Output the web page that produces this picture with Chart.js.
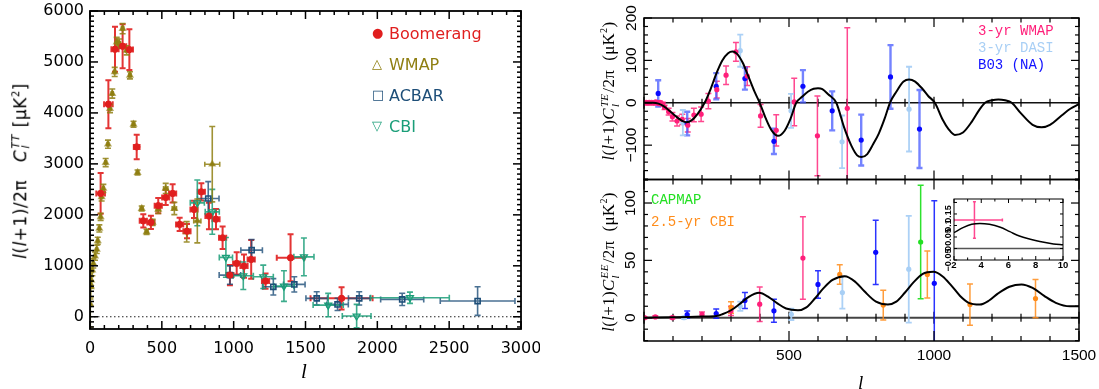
<!DOCTYPE html>
<html><head><meta charset="utf-8">
<script src="https://cdn.jsdelivr.net/npm/chart.js@4.4.1/dist/chart.umd.min.js"></script>
<style>
html,body{margin:0;padding:0;background:#fff;}
#wrap{position:relative;width:1099px;height:389px;overflow:hidden;background:#fff;}
canvas{position:absolute;}
.t{position:absolute;white-space:nowrap;line-height:1;}
.vt{position:absolute;white-space:nowrap;line-height:1;transform:translate(-50%,-50%) rotate(-90deg);}
.st{display:inline-block;vertical-align:middle;font-size:11px;line-height:0.95;text-align:left;margin:0 1px;}
.st span{display:block;}
.lg{position:absolute;white-space:nowrap;line-height:1;transform:translateY(-50%);}
</style></head>
<body><div id="wrap">
<canvas id="cL" width="540" height="389" style="left:0;top:0"></canvas>
<canvas id="cTE" width="559" height="185" style="left:540px;top:0"></canvas>
<canvas id="cEE" width="559" height="219" style="left:540px;top:170px"></canvas>
<canvas id="cIn" width="155" height="95" style="left:918px;top:188px"></canvas>

<div class="vt" style="left:21px;top:171px;font:17px 'DejaVu Sans';letter-spacing:0.5px"><i>l</i>(<i>l</i>+1)/2π&nbsp;&nbsp;&nbsp;<i>C</i><span class="st"><span><i>TT</i></span><span><i>l</i></span></span>&nbsp;[μK<sup style="font-size:10px">2</sup>]</div>
<div class="t" style="left:301px;top:359px;font:italic 21px 'Liberation Serif';">l</div>

<div class="lg" style="left:372px;top:32px;font:13px 'DejaVu Sans';color:#e01e1e">●</div>
<div class="lg" style="left:389px;top:33px;font:16px 'DejaVu Sans';color:#e01e1e">Boomerang</div>
<div class="lg" style="left:372px;top:63px;font:13px 'DejaVu Sans';color:#8f7f12">△</div>
<div class="lg" style="left:389px;top:64px;font:16px 'DejaVu Sans';color:#8f7f12">WMAP</div>
<div class="lg" style="left:372px;top:94px;font:13px 'DejaVu Sans';color:#1d4e78">□</div>
<div class="lg" style="left:389px;top:95px;font:16px 'DejaVu Sans';color:#1d4e78">ACBAR</div>
<div class="lg" style="left:372px;top:125px;font:13px 'DejaVu Sans';color:#1a9e78">▽</div>
<div class="lg" style="left:389px;top:126px;font:16px 'DejaVu Sans';color:#1a9e78">CBI</div>

<div class="vt" style="left:609px;top:91px;font:17px 'Liberation Serif';letter-spacing:0.3px"><i>l</i>(<i>l</i>+1)<i>C</i><span class="st"><span><i>TE</i></span><span><i>l</i></span></span>/2π&nbsp;&nbsp;(μK<sup style="font-size:10px">2</sup>)</div>
<div class="vt" style="left:609px;top:262px;font:17px 'Liberation Serif';letter-spacing:0.3px"><i>l</i>(<i>l</i>+1)<i>C</i><span class="st"><span><i>EE</i></span><span><i>l</i></span></span>/2π&nbsp;&nbsp;(μK<sup style="font-size:10px">2</sup>)</div>
<div class="t" style="left:858px;top:372px;font:italic 19px 'Liberation Serif';">l</div>

<div class="lg" style="left:978px;top:31px;font:14px 'Liberation Mono';color:#ff1f7a">3-yr WMAP</div>
<div class="lg" style="left:978px;top:48px;font:14px 'Liberation Mono';color:#a8cff5">3-yr DASI</div>
<div class="lg" style="left:978px;top:65px;font:14px 'Liberation Mono';color:#1010ff">B03 (NA)</div>
<div class="lg" style="left:651px;top:200px;font:14px 'Liberation Mono';color:#22e022">CAPMAP</div>
<div class="lg" style="left:651px;top:222px;font:14px 'Liberation Mono';color:#ff8c1a">2.5-yr CBI</div>
</div>
<script>
// ================= DATA =================
const L_X_TICKS = [0,500,1000,1500,2000,2500,3000];
const L_Y_TICKS = [0,1000,2000,3000,4000,5000,6000];

const BOOM_L  = [74,128,174,227,274,325,371,424,475,527,575,624,675,724,775,828,877,923,974,1021,1072,1122,1222,1396,1751];
const BOOM_V  = [2420,4171,5249,5308,5243,3333,1882,1851,2180,2341,2420,1812,1680,2106,2451,1975,1916,1549,818,1047,994,1125,700,1157,361];
const BOOM_EY = [400,470,440,430,400,240,130,130,150,150,180,130,140,170,170,260,200,220,200,220,230,380,150,460,220];
const BOOM_EX = [30,30,25,25,25,20,25,25,25,25,25,25,25,25,25,25,25,25,25,25,25,25,25,96,216];

const WMAP_L  = [2,3,5,9,16,23,35,47,54,65,74,81,93,109,125,139,155,172,186,204,227,255,278,303,331,360,394,436,475,527,587,673,747,851];
const WMAP_V  = [250,650,588,720,916,1047,1190,1322,1490,1733,1961,2353,2518,3027,3386,4086,4380,4804,5392,5361,5655,5229,4739,3778,2831,2125,1667,1851,2106,2518,2125,1667,1880,2994];
const WMAP_EY = [450,300,200,150,110,90,80,80,70,70,70,80,80,80,80,80,90,90,90,90,100,90,70,60,50,50,50,60,80,100,120,200,430,740];
const WMAP_EX = [0,0,1,2,3,3,4,5,5,5,5,5,5,6,6,7,7,7,7,8,8,8,8,8,8,10,10,12,15,15,15,15,25,52];

const ACBAR_L  = [823,974,1125,1276,1422,1578,1723,1874,2173,2698];
const ACBAR_V  = [2321,818,1307,588,635,361,243,361,341,308];
const ACBAR_EY = [330,180,210,160,150,130,120,130,120,280];
const ACBAR_EX = [75,75,75,75,75,75,75,75,150,260];

const CBI_L  = [747,851,946,1067,1206,1350,1489,1658,1856,2227];
const CBI_V  = [2235,2059,1165,804,784,602,1176,229,14,373];
const CBI_EY = [450,440,390,270,230,300,370,230,230,110];
const CBI_EX = [49,49,46,70,70,70,70,105,100,274];

const R_X_TICKS = [500,1000,1500];
const TE_Y_TICKS = [-100,0,100,200];
const TE_Y_LABELS = ['\u2212100','0','100','200'];
const EE_Y_TICKS = [0,50,100];

const TE_CURVE_L = [2,30,50,70,90,110,130,146,165,185,209,230,250,270,290,305,320,340,360,380,399,420,440,462,485,505,525,545,565,585,600,615,635,663,690,715,735,750,770,790,810,830,848,870,895,914,935,960,980,1003,1030,1050,1072,1100,1130,1155,1176,1200,1222,1245,1268,1300,1340,1371,1400,1440,1470,1500];
const TE_CURVE_V = [0,0,-2,-9,-20,-32,-42,-46,-41,-26,0,33,70,100,117,121,116,95,62,28,0,-37,-65,-78,-66,-38,0,14,26,33,34,32,20,0,-58,-101,-124,-128,-121,-98,-72,-37,0,26,50,55,50,33,16,0,-40,-62,-76,-70,-45,-18,0,6,8,6,0,-25,-52,-58,-52,-30,-14,-3];

const TE_WMAP_L = [2,5,8,11,14,18,22,26,30,35,40,45,50,55,60,65,71,85,98,114,132,151,172,197,222,251,283,317,356,402,456,518,598,701];
const TE_WMAP_V = [0,0,1,-1,0,1,-1,1,0,-1,2,1,-2,1,-3,-3,-11,-21,-33,-43,-39,-53,-29,-27,4,31,65,120,63,-31,-65,2,-78,-13];
const TE_WMAP_E = [2,2,2,2,2,2,2,2,2,3,3,3,3,3,4,4,5,8,10,12,12,16,16,17,18,20,22,22,22,27,37,56,94,190];

const TE_DASI_L = [134,332,507,683,914];
const TE_DASI_V = [-47,123,-19,-92,-15];
const TE_DASI_E = [30,38,40,62,100];

const TE_B03_L = [49,149,249,348,448,548,649,749,850,950];
const TE_B03_V = [22,-49,39,57,-91,39,-19,-88,61,-62];
const TE_B03_E = [31,28,31,26,30,38,46,60,75,92];

const EE_CURVE_L = [2,100,200,250,270,300,330,360,397,430,460,490,531,560,590,620,650,692,730,760,800,841,870,900,930,960,998,1030,1060,1090,1120,1158,1190,1220,1260,1302,1340,1380,1420,1469,1500];
const EE_CURVE_V = [0,0.3,1,1.5,3,6.5,12,18,21.7,18,12.5,8,6.5,9,17,26,33,36.2,31,23,14,11.5,14,22,31,38,40,36,28,19,13,11.5,15,21,27,29,26,19,13,10,10];

const EE_WMAP_L = [2,39,98,200,300,399,548];
const EE_WMAP_V = [0,0.7,0,3,6,11.8,52];
const EE_WMAP_E = [0.8,1,1,2,4,15,36];

const EE_B03_L = [149,249,348,448,600,799,1001];
const EE_B03_V = [2.8,3.6,15,6,29,57,30];
const EE_B03_E = [3,4,7,10,12,28,72];

const EE_DASI_L = [138,332,508,684,913];
const EE_DASI_V = [0,10,3,22,42.3];
const EE_DASI_E = [1,4,5,14,46.5];

const EE_CBI_L = [300,675,825,977,1124,1350];
const EE_CBI_V = [9,37.7,11,37.7,11.5,16.7];
const EE_CBI_E = [5,8.5,13,20.5,18,16.7];

const EE_CAP_L = [954];
const EE_CAP_V = [66];
const EE_CAP_E = [49.5];

const IN_X_TICKS = [2,4,6,8,10];
const IN_Y_TICKS = [-0.05,0,0.05,0.1,0.15];
const IN_Y_LABELS = ['\u22120.05','0','0.05','0.1','0.15'];
const IN_CURVE_X = [2,2.7,3.3,3.9,4.6,5.4,6.1,6.8,7.6,8.3,9.3,10];
const IN_CURVE_V = [0.069,0.092,0.105,0.109,0.105,0.092,0.073,0.054,0.040,0.030,0.020,0.016];
const IN_PT_X = [3.5], IN_PT_XLO = [2.0], IN_PT_XHI = [5.55];
const IN_PT_V = [0.124], IN_PT_VLO = [0.044], IN_PT_VHI = [0.203];

// ================= HELPERS =================
function pts(L, V, EY, EX){
  return L.map((l,i)=>({x:l, y:V[i], yLo:V[i]-EY[i], yHi:V[i]+EY[i],
    xLo: l-(EX?EX[i]:0), xHi: l+(EX?EX[i]:0)}));
}
function curve(L, V){ return L.map((l,i)=>({x:l, y:V[i]})); }
const plain = v => String(v);

function tickVals(min, max, minor, major){
  const out=[]; const i0=Math.ceil(min/minor-1e-9), i1=Math.floor(max/minor+1e-9);
  for(let i=i0;i<=i1;i++){ const v=i*minor; const r=v/major; out.push([v, Math.abs(r-Math.round(r))<1e-6]); }
  return out;
}

function makeErr(){
  return {
    id:'errbars',
    beforeDatasetsDraw(chart){
      const {ctx, chartArea:a} = chart;
      ctx.save();
      ctx.beginPath(); ctx.rect(a.left, a.top, a.right-a.left, a.bottom-a.top); ctx.clip();
      chart.data.datasets.forEach(ds=>{
        if(!ds.err) return;
        const xs = chart.scales.x, ys = chart.scales.y;
        ctx.strokeStyle = ds.err.color; ctx.lineWidth = ds.err.lw; ctx.lineCap='butt';
        const cap = ds.err.cap, capx = ds.err.capx;
        ctx.beginPath();
        ds.data.forEach(p=>{
          const px = xs.getPixelForValue(p.x), py = ys.getPixelForValue(p.y);
          if(p.yLo!==p.yHi){
            const y1 = ys.getPixelForValue(p.yLo), y2 = ys.getPixelForValue(p.yHi);
            ctx.moveTo(px,y1); ctx.lineTo(px,y2);
            if(cap){ ctx.moveTo(px-cap,y1); ctx.lineTo(px+cap,y1); ctx.moveTo(px-cap,y2); ctx.lineTo(px+cap,y2); }
          }
          if(p.xLo!==p.xHi){
            const x1 = xs.getPixelForValue(p.xLo), x2 = xs.getPixelForValue(p.xHi);
            ctx.moveTo(x1,py); ctx.lineTo(x2,py);
            if(capx){ ctx.moveTo(x1,py-capx); ctx.lineTo(x1,py+capx); ctx.moveTo(x2,py-capx); ctx.lineTo(x2,py+capx); }
          }
        });
        ctx.stroke();
      });
      ctx.restore();
    }
  };
}

function makeFrame(o){
  return {
    id:'frame',
    beforeDatasetsDraw(chart){
      const {ctx, chartArea:a} = chart;
      const x = chart.scales.x, y = chart.scales.y;
      ctx.save();
      if(o.fill){ ctx.fillStyle=o.fill; ctx.fillRect(a.left,a.top,a.right-a.left,a.bottom-a.top); }
      if(o.zero){
        const z = o.zero; const py = y.getPixelForValue(0);
        ctx.strokeStyle = z.color; ctx.lineWidth = z.lw;
        if(z.dash) ctx.setLineDash(z.dash);
        ctx.beginPath(); ctx.moveTo(a.left,py); ctx.lineTo(a.right,py); ctx.stroke();
        ctx.setLineDash([]);
        if(z.ticks){
          ctx.fillStyle = '#000';
          for(const [v,maj] of tickVals(o.xr[0],o.xr[1],o.xMinor,o.xMajor)){
            const px = x.getPixelForValue(v); const L = maj? z.tMaj : z.tMin;
            ctx.fillRect(px - z.tlw/2, py - L, z.tlw, 2*L);
          }
        }
      }
      ctx.restore();
    },
    afterDraw(chart){
      const {ctx, chartArea:a} = chart;
      const x = chart.scales.x, y = chart.scales.y;
      const tx = tickVals(o.xr[0],o.xr[1],o.xMinor,o.xMajor);
      const ty = tickVals(o.yr[0],o.yr[1],o.yMinor,o.yMajor);
      ctx.save();
      ctx.setLineDash([]);
      ctx.fillStyle = '#000';
      const w = o.tlw;
      for(const [v,maj] of tx){
        const px = x.getPixelForValue(v); const L = maj? o.xMaj : o.xMin;
        ctx.fillRect(px - w/2, a.bottom - L, w, L);
        ctx.fillRect(px - w/2, a.top, w, L);
      }
      for(const [v,maj] of ty){
        const py = y.getPixelForValue(v); const L = maj? o.yMaj : o.yMin;
        ctx.fillRect(a.left, py - w/2, L, w);
        ctx.fillRect(a.right - L, py - w/2, L, w);
      }
      ctx.strokeStyle = '#000';
      ctx.lineWidth = o.lw;
      ctx.strokeRect(a.left, a.top, a.right-a.left, a.bottom-a.top);
      ctx.restore();
    }
  };
}

function fixTicks(arr){ return s=>{ s.ticks = arr.map(v=>({value:v})); }; }
function fitX(h){ return s=>{ s.height=h; s.paddingLeft=0; s.paddingRight=0; s.paddingTop=0; s.paddingBottom=0; }; }
function fitY(w){ return s=>{ s.width=w; s.paddingLeft=0; s.paddingRight=0; s.paddingTop=0; s.paddingBottom=0; }; }

const noGrid = {display:false, drawTicks:false};
const noBorder = {display:false};

const RED='#e01e1e', OLIVE='#8f7f12', NAVY='#1d4e78', TEAL='#1a9e78';
new Chart(document.getElementById('cL'), {
  type:'scatter',
  data:{datasets:[
    {label:'Boomerang', data:pts(BOOM_L,BOOM_V,BOOM_EY,BOOM_EX), pointStyle:'circle', pointRadius:3.2,
      backgroundColor:RED, borderColor:RED, borderWidth:1, err:{color:'rgba(224,30,30,0.9)', lw:2, cap:3, capx:3}},
    {label:'ACBAR', data:pts(ACBAR_L,ACBAR_V,ACBAR_EY,ACBAR_EX), pointStyle:'rect', pointRadius:3.6,
      backgroundColor:'rgba(255,255,255,0)', borderColor:NAVY, borderWidth:1.6, err:{color:'rgba(29,78,120,0.8)', lw:1.6, cap:3, capx:3}},
    {label:'CBI', data:pts(CBI_L,CBI_V,CBI_EY,CBI_EX), pointStyle:'triangle', rotation:180, pointRadius:4,
      backgroundColor:'rgba(255,255,255,0)', borderColor:TEAL, borderWidth:1.3, err:{color:'rgba(26,158,120,0.85)', lw:1.6, cap:3, capx:3}},
    {label:'WMAP', data:pts(WMAP_L,WMAP_V,WMAP_EY,WMAP_EX), pointStyle:'triangle', pointRadius:3.3,
      backgroundColor:OLIVE, borderColor:'rgba(143,127,18,0.6)', borderWidth:1.5, err:{color:'rgba(143,127,18,0.85)', lw:1.6, cap:3, capx:2.5}}
  ]},
  options:{
    responsive:false, animation:false, events:[],
    layout:{padding:{left:0,right:19,top:11,bottom:0}},
    plugins:{legend:{display:false}, tooltip:{enabled:false}},
    scales:{
      x:{type:'linear', min:0, max:3000, afterBuildTicks:fixTicks(L_X_TICKS), afterFit:fitX(60),
         grid:noGrid, border:noBorder, ticks:{padding:10, autoSkip:false, maxRotation:0, color:'#000', callback:plain, font:{family:'DejaVu Sans', size:16}}},
      y:{type:'linear', min:-240, max:6000, afterBuildTicks:fixTicks(L_Y_TICKS), afterFit:fitY(90),
         grid:noGrid, border:noBorder, ticks:{padding:6, autoSkip:false, color:'#000', callback:plain, font:{family:'DejaVu Sans', size:16}}}
    }
  },
  plugins:[makeFrame({xr:[0,3000], yr:[-240,6000], lw:1.8, tlw:1.5, xMinor:100, xMajor:500, yMinor:100, yMajor:1000, xMaj:8, xMin:4, yMaj:8, yMin:4,
        zero:{color:'#222', lw:1.2, dash:[1.5,2.5]}}), makeErr()]
});

const PINK='#ff1f7a', LBLUE='#a8cff5', BLUE='#0a0aff', ORANGE='#ff8c1a', GREEN='#22e022';
function ptSet(label, data, color, errColor, lw){
  return {label, data, pointStyle:'circle', pointRadius:2.6, backgroundColor:color, borderColor:color, borderWidth:0,
    err:{color:errColor, lw:lw, cap:3}};
}
new Chart(document.getElementById('cTE'), {
  type:'scatter',
  data:{datasets:[
    {label:'model', type:'line', data:curve(TE_CURVE_L,TE_CURVE_V), showLine:true, pointRadius:0, borderColor:'#000', borderWidth:2, cubicInterpolationMode:'monotone', fill:false},
    ptSet('3-yr WMAP', pts(TE_WMAP_L,TE_WMAP_V,TE_WMAP_E), PINK, 'rgba(255,40,125,0.85)', 1.5),
    ptSet('B03 (NA)', pts(TE_B03_L,TE_B03_V,TE_B03_E), BLUE, 'rgba(70,90,255,0.75)', 2.4),
    ptSet('3-yr DASI', pts(TE_DASI_L,TE_DASI_V,TE_DASI_E), LBLUE, 'rgba(168,207,245,0.95)', 1.8)
  ]},
  options:{
    responsive:false, animation:false, events:[],
    layout:{padding:{left:0,right:20,top:18,bottom:0}},
    plugins:{legend:{display:false}, tooltip:{enabled:false}},
    scales:{
      x:{type:'linear', min:0, max:1500, afterBuildTicks:fixTicks(R_X_TICKS), afterFit:fitX(5.5),
         grid:noGrid, border:noBorder, ticks:{display:false}},
      y:{type:'linear', min:-181, max:200, afterBuildTicks:fixTicks(TE_Y_TICKS), afterFit:fitY(104),
         grid:noGrid, border:noBorder,
         ticks:{padding:-5, crossAlign:'center', minRotation:90, maxRotation:90, autoSkip:false, color:'#000',
           font:{family:'Liberation Sans', size:15.5}, callback:(v)=>TE_Y_LABELS[TE_Y_TICKS.indexOf(v)]}}
    }
  },
  plugins:[makeFrame({xr:[0,1500], yr:[-181,200], lw:1.5, tlw:1.2, xMinor:100, xMajor:500, yMinor:20, yMajor:100, xMaj:9, xMin:4.5, yMaj:8, yMin:4,
        zero:{color:'#111', lw:1.6, ticks:true, tMaj:6, tMin:4, tlw:1.2}}), makeErr()]
});

new Chart(document.getElementById('cEE'), {
  type:'scatter',
  data:{datasets:[
    {label:'model', type:'line', data:curve(EE_CURVE_L,EE_CURVE_V), showLine:true, pointRadius:0, borderColor:'#000', borderWidth:2, cubicInterpolationMode:'monotone', fill:false},
    ptSet('CAPMAP', pts(EE_CAP_L,EE_CAP_V,EE_CAP_E), GREEN, 'rgba(34,224,34,0.95)', 1.5),
    ptSet('2.5-yr CBI', pts(EE_CBI_L,EE_CBI_V,EE_CBI_E), ORANGE, 'rgba(255,140,26,0.85)', 1.5),
    ptSet('3-yr WMAP', pts(EE_WMAP_L,EE_WMAP_V,EE_WMAP_E), PINK, 'rgba(255,40,125,0.85)', 1.5),
    ptSet('B03 (NA)', pts(EE_B03_L,EE_B03_V,EE_B03_E), BLUE, 'rgba(20,30,255,0.9)', 1.5),
    ptSet('3-yr DASI', pts(EE_DASI_L,EE_DASI_V,EE_DASI_E), LBLUE, 'rgba(168,207,245,0.95)', 1.8)
  ]},
  options:{
    responsive:false, animation:false, events:[],
    layout:{padding:{left:0,right:20,top:9.5,bottom:0}},
    plugins:{legend:{display:false}, tooltip:{enabled:false}},
    scales:{
      x:{type:'linear', min:0, max:1500, afterBuildTicks:fixTicks(R_X_TICKS), afterFit:fitX(48),
         grid:noGrid, border:noBorder, ticks:{padding:5, autoSkip:false, maxRotation:0, color:'#000', callback:plain, font:{family:'Liberation Sans', size:15.5}}},
      y:{type:'linear', min:-20.3, max:120.5, afterBuildTicks:fixTicks(EE_Y_TICKS), afterFit:fitY(104),
         grid:noGrid, border:noBorder,
         ticks:{padding:0, crossAlign:'center', minRotation:90, maxRotation:90, autoSkip:false, color:'#000', callback:plain,
           font:{family:'Liberation Sans', size:15.5}}}
    }
  },
  plugins:[makeFrame({xr:[0,1500], yr:[-20.3,120.5], lw:1.5, tlw:1.2, xMinor:100, xMajor:500, yMinor:10, yMajor:50, xMaj:10, xMin:5, yMaj:8, yMin:4,
        zero:{color:'#444', lw:2, ticks:true, tMaj:6, tMin:4, tlw:1.2}}), makeErr()]
});

new Chart(document.getElementById('cIn'), {
  type:'scatter',
  data:{datasets:[
    {label:'model', type:'line', data:curve(IN_CURVE_X,IN_CURVE_V), showLine:true, pointRadius:0, borderColor:'#000', borderWidth:1.5, cubicInterpolationMode:'monotone', fill:false},
    {label:'WMAP', data:IN_PT_X.map((x,i)=>({x, y:IN_PT_V[i], xLo:IN_PT_XLO[i], xHi:IN_PT_XHI[i], yLo:IN_PT_VLO[i], yHi:IN_PT_VHI[i]})),
      pointRadius:0, err:{color:'rgba(255,40,125,0.85)', lw:1.5, cap:1.5, capx:1.5}}
  ]},
  options:{
    responsive:false, animation:false, events:[],
    layout:{padding:{left:0,right:10,top:11,bottom:0}},
    plugins:{legend:{display:false}, tooltip:{enabled:false}},
    scales:{
      x:{type:'linear', min:2, max:10, afterBuildTicks:fixTicks(IN_X_TICKS), afterFit:fitX(23),
         grid:noGrid, border:noBorder, ticks:{padding:0, autoSkip:false, maxRotation:0, color:'#000', callback:plain, font:{family:'Liberation Sans', size:9.5, weight:'bold'}}},
      y:{type:'linear', min:-0.05, max:0.215, afterBuildTicks:fixTicks(IN_Y_TICKS), afterFit:fitY(36),
         grid:noGrid, border:noBorder,
         ticks:{padding:-6, crossAlign:'center', minRotation:90, maxRotation:90, autoSkip:false, color:'#000',
           font:{family:'Liberation Sans', size:9, weight:'bold'}, callback:(v)=>IN_Y_LABELS[IN_Y_TICKS.indexOf(v)]}}
    }
  },
  plugins:[makeFrame({xr:[2,10], yr:[-0.05,0.215], lw:1, tlw:1, fill:'#fff', xMinor:1, xMajor:2, yMinor:0.05, yMajor:0.05, xMaj:4, xMin:2.5, yMaj:3, yMin:3,
        zero:{color:'#555', lw:1.6, ticks:false}}), makeErr()]
});
</script>
</body></html>
